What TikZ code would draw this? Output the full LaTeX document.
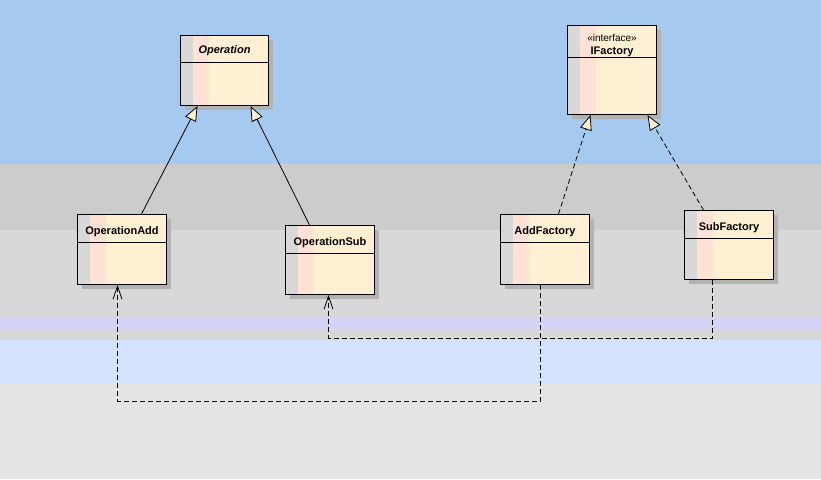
\documentclass[tikz,border=0pt]{standalone}
\usepackage{fontspec}
\newfontfamily\umlfont{Liberation Sans}
\usetikzlibrary{arrows.meta,shadows}

\definecolor{bandblue}{HTML}{A6C9EF}
\definecolor{bandgray}{HTML}{CCCCCC}
\definecolor{bandlight}{HTML}{D8D8D8}
\definecolor{bandlav}{HTML}{D4D4F8}
\definecolor{bandpale}{HTML}{D4E2FC}
\definecolor{bandfloor}{HTML}{E4E4E4}
\definecolor{classfill}{HTML}{FFF0D4}
\definecolor{stripegray}{HTML}{D8D8D8}
\definecolor{stripepink}{HTML}{FFE1D6}

\tikzset{
    umlclass/.style={draw, line width=1pt, fill=classfill, anchor=north west,
        inner sep=0pt, minimum width=89pt,
        drop shadow={shadow xshift=4pt, shadow yshift=-4pt, fill=black!30, opacity=1},
        path picture={
            \fill[stripegray] (path picture bounding box.north west) rectangle ([xshift=12pt]path picture bounding box.south west);
            \fill[stripepink] ([xshift=12pt]path picture bounding box.north west) rectangle ([xshift=28pt]path picture bounding box.south west);
        }},
    umltitle/.style={font=\umlfont\bfseries\fontsize{11}{13}\selectfont, inner sep=0pt, align=center},
    inherit/.style={line width=0.8pt, -{Triangle[width=12pt,length=15pt,fill=classfill]}},
    realize/.style={inherit, dash pattern=on 5pt off 3pt},
    dependency/.style={line width=0.8pt, dash pattern=on 5pt off 3pt, -{Straight Barb[length=13pt,width=9pt]}},
}

\begin{document}
\begin{tikzpicture}[x=1pt,y=-1pt]
    \useasboundingbox (0,0) rectangle (821,479);
    \foreach \c/\t/\b in {bandblue/0/163.5, bandgray/163.5/230, bandlight/230/318, bandlav/318/329,
            bandlight/329/340, bandpale/340/383.5, bandfloor/383.5/479}{
            \fill[\c] (0,\t) rectangle (821,\b);
    }

    \node[umlclass, minimum width=88pt, minimum height=70pt] (op) at (180,35) {};
    \node[umlclass, minimum height=89pt] (ifac) at (567,25) {};
    \node[umlclass, minimum height=70pt] (opadd) at (77,214) {};
    \node[umlclass, minimum height=69pt] (opsub) at (285,225) {};
    \node[umlclass, minimum height=70pt] (addf) at (500,214) {};
    \node[umlclass, minimum height=69pt] (subf) at (684,210) {};

    \foreach \n/\h in {op/27, ifac/32, opadd/28, opsub/28, addf/28, subf/28}{
            \draw[line width=1pt] ([yshift=-\h pt]\n.north west) -- ([yshift=-\h pt]\n.north east);
    }

    \node[umltitle, font=\umlfont\bfseries\itshape\fontsize{11}{13}\selectfont] (optitle) at ([yshift=-15.5pt]op.north) {Operation};
    \node[umltitle] (ifactitle) at ([yshift=-20.5pt]ifac.north) {{\mdseries\fontsize{10}{12}\selectfont «interface»}\\IFactory};
    \node[umltitle] (opaddtitle) at ([yshift=-17.5pt]opadd.north) {OperationAdd};
    \node[umltitle] (opsubtitle) at ([yshift=-17.5pt]opsub.north) {OperationSub};
    \node[umltitle] (addftitle) at ([yshift=-17.5pt]addf.north) {AddFactory};
    \node[umltitle] (subftitle) at ([yshift=-17.5pt]subf.north) {SubFactory};

    \draw[inherit] ([xshift=19.5pt]opadd.north) -- ([xshift=-27pt]op.south);
    \draw[inherit] ([xshift=-20.5pt]opsub.north) -- ([xshift=26pt]op.south);
    \draw[realize] ([xshift=13.5pt]addf.north) -- ([xshift=-21.5pt]ifac.south);
    \draw[realize] ([xshift=-25.5pt]subf.north) -- ([xshift=35.5pt]ifac.south);

    \draw[dependency] ([xshift=-4.5pt]addf.south) -- ++(0,116) -| ([xshift=-4.5pt]opadd.south);
    \draw[dependency] ([xshift=-16.5pt]subf.south) -- ++(0,58) -| ([xshift=-1.5pt]opsub.south);
\end{tikzpicture}
\end{document}
